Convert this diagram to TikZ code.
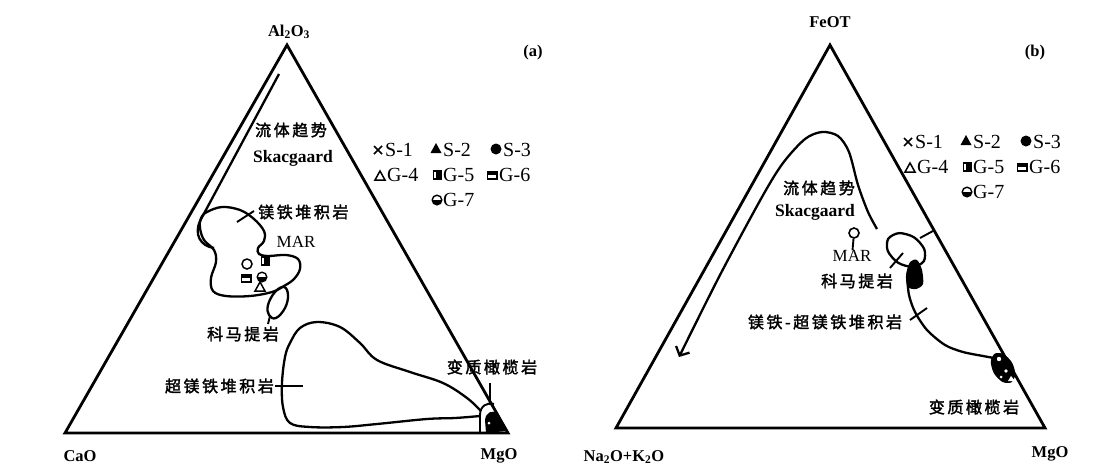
\documentclass[tikz,border=0pt]{standalone}
\usepackage{fontspec}
\setmainfont{Liberation Serif}
\newfontfamily\cjk[LetterSpace=16,FakeBold=2]{Noto Sans CJK SC}
\usetikzlibrary{arrows.meta}
\tikzset{
 pics/sxm/.style={code={\draw[line width=1.6pt] (-4,-4)--(4,4) (-4,4)--(4,-4);}},
 pics/sftri/.style={code={\fill (0,-6)--(5.5,4)--(-5.5,4)--cycle;}},
 pics/sfcir/.style={code={\fill (0,0) circle (5.5);}},
 pics/sotri/.style={code={\draw[line width=1.5pt,fill=white] (0,-5)--(5,4)--(-5,4)--cycle;}},
 pics/sgfive/.style={code={\fill (-4.5,-5) rectangle (4.5,5); \fill[white] (-3,-3.3) rectangle (-0.8,3.3);}},
 pics/sgsix/.style={code={\fill (-5.5,-4.5) rectangle (5.5,4.5); \fill[white] (-3.8,0) rectangle (3.8,2.8);}},
 pics/sgsev/.style={code={\draw[line width=1.4pt,fill=white] (0,0) circle (4.8); \begin{scope}\clip (-6,0) rectangle (6,6); \fill (0,0) circle (4.8);\end{scope}}},
 pics/socir/.style={code={\draw[line width=1.5pt,fill=white] (0,0) circle (5);}},
}
\newcommand\mylegend{%
 \pic at (378,150) {sxm}; \node[leg] (s1) at (385,150) {S-1};
 \pic at (436,149) {sftri}; \node[leg] (s2) at (443,150) {S-2};
 \pic at (496,149) {sfcir}; \node[leg] (s3) at (503,150) {S-3};
 \pic at (380,176) {sotri}; \node[leg] (g4) at (387,175) {G-4};
 \pic at (437,175) {sgfive}; \node[leg] (g5) at (443,175) {G-5};
 \pic at (492,175) {sgsix}; \node[leg] (g6) at (499,175) {G-6};
 \pic at (437,200) {sgsev}; \node[leg] (g7) at (443,200) {G-7};
}
\begin{document}
\begin{tikzpicture}[x=1pt,y=-1pt,
  edge/.style={line width=2.8pt,line join=miter},
  curve/.style={line width=2.3pt,line join=round},
  lead/.style={line width=1.9pt},
  cn/.style={font=\cjk\fontsize{16}{16}\selectfont,inner sep=0pt},
  bl/.style={font=\bfseries\fontsize{16.5}{16.5}\selectfont,inner sep=0pt},
  sk/.style={font=\bfseries\fontsize{17.5}{17.5}\selectfont,inner sep=0pt},
  mar/.style={font=\fontsize{17}{17}\selectfont,inner sep=0pt},
  leg/.style={font=\fontsize{20}{20}\selectfont,inner sep=0pt,anchor=west}]
\useasboundingbox[fill=white] (0,0) rectangle (1108,472);

% ---------------- panel (a)
\coordinate (A1) at (65,433); \coordinate (A2) at (508,433); \coordinate (A3) at (287,45);
\draw[edge] (A1) -- (A2) -- (A3) -- cycle;
\node[bl] (alo) at (289,32) {Al\textsubscript{2}O\textsubscript{3}};
\node[bl] (cao) at (80,456) {CaO};
\node[bl] (mgoa) at (499,456) {MgO};
\node[bl] (pa) at (533,53) {(a)};

\draw[curve] (279,74) -- (200,221) .. controls (194,234) and (200,246) .. (214,248);
\node[cn] (lta) at (291,130) {流体趋势};
\node[sk] (ska) at (293,158) {Skacgaard};

\draw[curve] plot[smooth cycle, tension=0.6] coordinates {(207,212) (222,207) (240,210) (254,219) (264,231) (264,241) (258,248) (259,254) (268,256) (286,255) (298,259) (300,269) (294,279) (284,286) (272,292) (250,296) (226,296) (213,291) (211,278) (216,262) (214,250) (204,240) (200,228) (201,218)};
\coordinate (tk1) at (237,222); \coordinate (tk2) at (254,211);
\draw[lead] (tk1) -- (tk2);
\node[cn,anchor=west] (mfa) at (258,212) {镁铁堆积岩};
\node[mar] (mara) at (296,242) {MAR};

\pic at (247,264) {socir};
\pic at (246,278) {sgsix};
\pic at (265,261) {sgfive};
\pic at (262,277) {sgsev};
\pic at (260,287) {sotri};

\draw[curve] plot[smooth cycle, tension=0.7] coordinates {(284,287) (288,295) (285,308) (276,318) (269,315) (268,305) (275,292)};
\coordinate (ka1) at (270,316); \coordinate (ka2) at (268,324);
\draw[lead] (ka1) -- (ka2);
\node[cn] (kma) at (243,334) {科马提岩};

\draw[curve] plot[smooth, tension=0.6] coordinates {(481,411) (467,398) (443,383) (410,372) (377,360) (360,343) (340,327) (317,322) (300,328) (290,343) (285,357) (282,383) (283,407) (290,423) (310,427) (343,427) (377,424) (427,419) (455,418) (480,416)};
\coordinate (ca1) at (275,386); \coordinate (ca2) at (303,386);
\draw[lead] (ca1) -- (ca2);
\node[cn,anchor=east] (cmf) at (274,386) {超镁铁堆积岩};

\fill (486,433) -- (485,420) .. controls (486,412) and (492,410) .. (497,413) -- (507,431) -- cycle;
\fill[white] (489,423) circle (1.5);
\draw[lead] (480,433) -- (480,415) .. controls (480,406) and (487,402) .. (494,404);
\coordinate (va1) at (490,383); \coordinate (va2) at (490,405);
\draw[lead] (va1) -- (va2);
\node[cn] (bza) at (492,367) {变质橄榄岩};

\begin{scope}[name prefix=a-]
\mylegend
\end{scope}

% ---------------- panel (b)
\coordinate (B1) at (616,428); \coordinate (B2) at (1045,428); \coordinate (B3) at (830,45);
\draw[edge] (B1) -- (B2) -- (B3) -- cycle;
\node[bl] (feo) at (830,22) {FeOT};
\node[bl] (nak) at (624,457) {Na\textsubscript{2}O+K\textsubscript{2}O};
\node[bl] (mgob) at (1050,454) {MgO};
\node[bl] (pb) at (1035,53) {(b)};

\draw[curve,-{Straight Barb[length=7pt,width=15pt]}] plot[smooth] coordinates {(877,229) (868,212) (858,185) (849,152) (838,136) (822,132) (805,139) (783,163) (762,197) (720,275) (679,357)};
\node[cn] (ltb) at (819,188) {流体趋势};
\node[sk] (skb) at (815,212) {Skacgaard};

\node[draw,circle,line width=1.6pt,minimum size=10pt,inner sep=0pt] (marc) at (854,233) {};
\node[mar] (marb) at (852,256) {MAR};
\draw[lead] (marc) -- (marb);

\draw[curve] plot[smooth cycle] coordinates {(923.8,261.2) (912.9,266.9) (898.0,262.7) (887.8,251.0) (888.2,238.8) (899.1,233.1) (914.0,237.3) (924.2,249.0)};
\coordinate (eb1) at (920,238); \coordinate (eb2) at (933,231);
\draw[lead] (eb1) -- (eb2);
\coordinate (kb1) at (903,253); \coordinate (kb2) at (890,268);
\draw[lead] (kb1) -- (kb2);
\node[cn] (kmb) at (857,281) {科马提岩};
\fill plot[smooth cycle] coordinates {(910,262) (917,260) (922,270) (923,284) (916,289) (908,287) (906,275)};

\draw[curve] plot[smooth] coordinates {(907,276) (909,295) (915,312) (927,330) (945,345) (963,352) (983,356) (994,358)};
\coordinate (tb1) at (910,320); \coordinate (tb2) at (927,308);
\draw[lead] (tb1) -- (tb2);
\node[cn] (mcb) at (825,322) {镁铁-超镁铁堆积岩};

\filldraw[line width=1pt] plot[smooth cycle] coordinates {(1010.8,382.0) (1002.4,381.3) (994.3,372.9) (991.3,361.6) (995.2,354.0) (1003.6,354.7) (1011.7,363.1) (1014.7,374.4)};
\fill[white] (999,359) circle (2.2);
\fill[white] (1006,371) circle (1.8);
\fill[white] (1001,377) circle (1.5);
\fill[white] (1011,376) -- (1015,381) -- (1008,381) -- cycle;
\node[cn] (bzb) at (974,407) {变质橄榄岩};

\begin{scope}[shift={(530,-8)},name prefix=b-]
\mylegend
\end{scope}
\end{tikzpicture}
\end{document}
